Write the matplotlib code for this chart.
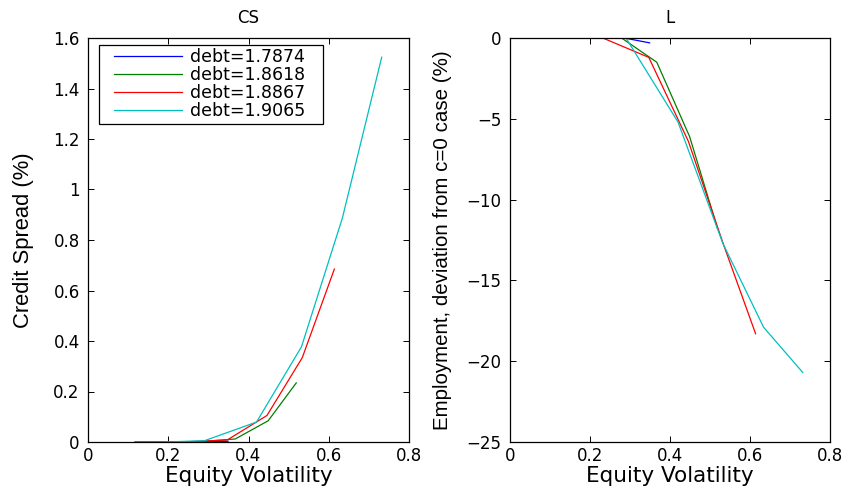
import matplotlib.pyplot as plt
from matplotlib.ticker import FuncFormatter
from matplotlib.legend_handler import HandlerLine2D

plt.rcParams['font.family'] = ['DejaVu Sans']

labels = ["debt=1.7874", "debt=1.8618", "debt=1.8867", "debt=1.9065"]
colors = ['#0000ff', '#008000', '#ff0000', '#00bfbf']

# equity volatility for each series
vol_b = [0.117, 0.19, 0.29, 0.349]
vol_g = [0.19, 0.279, 0.367, 0.449, 0.519]
vol_r = [0.232, 0.347, 0.446, 0.534, 0.614]
vol_c = [0.19, 0.29, 0.42, 0.532, 0.634, 0.732]

# credit spread (%)
cs_b = [0.0, 0.0, 0.001, 0.003]
cs_g = [0.0, 0.001, 0.012, 0.084, 0.234]
cs_r = [0.0, 0.008, 0.105, 0.334, 0.685]
cs_c = [0.0, 0.005, 0.079, 0.377, 0.887, 1.524]

# employment deviation (%)
L_b = [0.0, 0.0, -0.02, -0.3]
L_g = [0.0, 0.0, -1.5, -6.1, -11.8]
L_r = [0.0, -1.2, -6.4, -12.8, -18.3]
L_c = [0.0, 0.0, -5.2, -12.7, -17.9, -20.7]

vols = [vol_b, vol_g, vol_r, vol_c]
css = [cs_b, cs_g, cs_r, cs_c]
Ls = [L_b, L_g, L_r, L_c]

fig = plt.figure(figsize=(8.48, 4.88), dpi=100)
W, H = 848, 488
ax1 = fig.add_axes([88 / W, (H - 442) / H, 321 / W, 404 / H])
ax2 = fig.add_axes([510 / W, (H - 442) / H, 320 / W, 404 / H])

lines = []
for v, c, col, lab in zip(vols, css, colors, labels):
    ln, = ax1.plot(v, c, color=col, lw=0.9, label=lab)
    lines.append(ln)
for v, l, col in zip(vols, Ls, colors):
    ax2.plot(v, l, color=col, lw=0.9)

gfmt = FuncFormatter(lambda x, p: ('%g' % x).replace('-', '\u2212'))

for ax in (ax1, ax2):
    ax.set_xlim(0, 0.8)
    ax.set_xticks([0, 0.2, 0.4, 0.6, 0.8])
    ax.xaxis.set_major_formatter(gfmt)
    ax.yaxis.set_major_formatter(gfmt)
    ax.tick_params(direction='in', top=True, right=True, labelsize=12, length=4, width=0.7)
    ax.tick_params(axis='y', pad=6)
    for s in ax.spines.values():
        s.set_linewidth(0.9)
    ax.set_xlabel("Equity Volatility", fontsize=15.5, labelpad=1)

ax1.set_ylim(0, 1.6)
ax1.set_yticks([0, 0.2, 0.4, 0.6, 0.8, 1.0, 1.2, 1.4, 1.6])
ax1.set_ylabel("Credit Spread (%)", fontsize=15.8, family='Liberation Sans')
ax1.yaxis.set_label_coords(-0.168, 0.5)
ax1.set_title("CS", fontsize=12, pad=11)

ax2.set_ylim(-25, 0)
ax2.set_yticks([-25, -20, -15, -10, -5, 0])
ax2.set_ylabel("Employment, deviation from c=0 case (%)", fontsize=14.8, family='Liberation Sans')
ax2.yaxis.set_label_coords(-0.181, 0.5)
ax2.set_title("L", fontsize=12, pad=11)

leg = ax1.legend(handles=lines, loc='upper left',
                 bbox_to_anchor=(11 / 321, (442 - 45) / 404, 224 / 321, 0.0),
                 mode='expand', borderaxespad=0, fontsize=12.5,
                 fancybox=False, framealpha=1, edgecolor='black',
                 handlelength=4.6, labelspacing=0.0, borderpad=0.2, handletextpad=0.46,
                 handler_map={ln: HandlerLine2D(xpad=0.66) for ln in lines})
leg.get_frame().set_linewidth(0.9)

fig.savefig('out.png', dpi=100)
